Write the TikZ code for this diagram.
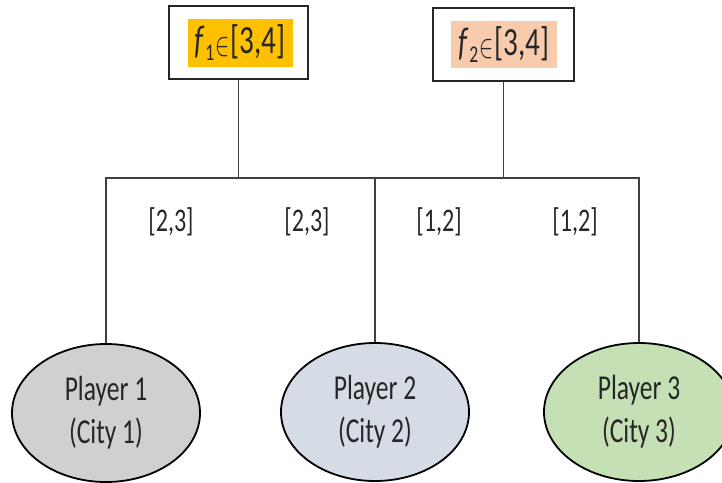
\documentclass[tikz,border=0pt]{standalone}
\usepackage{fontspec}
\setmainfont[FakeStretch=0.73]{Carlito}
\usetikzlibrary{shapes.geometric}
\definecolor{txt}{HTML}{262626}
\definecolor{gold}{HTML}{FFC000}
\definecolor{peach}{HTML}{F8CBAD}
\definecolor{pgray}{HTML}{D0D0D0}
\definecolor{pblue}{HTML}{D6DCE5}
\definecolor{pgreen}{HTML}{C5E0B4}
\definecolor{lin}{HTML}{404040}
\tikzset{
  outerbox/.style={draw=black!85, line width=1.8pt, minimum width=139pt, minimum height=73pt, inner sep=0pt},
  hilite/.style={minimum width=105pt, minimum height=48pt, inner sep=0pt, text=txt, font=\fontsize{40}{42}\selectfont},
  player/.style={ellipse, draw=black, line width=1.8pt, minimum width=188pt, minimum height=138pt, inner sep=0pt, align=center, text=txt, font=\fontsize{35}{43}\selectfont},
  conn/.style={draw=lin, line width=1.4pt},
  lab/.style={text=txt, font=\fontsize{33}{36}\selectfont, inner sep=0pt}
}
\newcommand{\fval}[1]{\textit{f}\raisebox{-0.35ex}{\fontsize{24}{24}\selectfont #1}\kern1pt\raisebox{-0.12ex}{\scalebox{0.85}[1.35]{$\in$}}\kern1pt[3,4]}
\begin{document}
\begin{tikzpicture}[x=1pt,y=-1pt]
\useasboundingbox (0,0) rectangle (722,482);
\node[outerbox] (b1) at (238.5,42.5) {};
\node[hilite, fill=gold] (t1) at (240,42.5) {\fval{1}};
\node[outerbox, minimum width=141pt] (b2) at (503.5,44.5) {};
\node[hilite, fill=peach, minimum width=106pt, minimum height=47pt] (t2) at (504,44.5) {\fval{2}};

\coordinate (barL) at (106,178);
\coordinate (barR) at (640,178);

\node[player, fill=pgray] (p1) at (106,413) {Player 1\\(City 1)};
\node[player, fill=pblue] (p2) at (375,412) {Player 2\\(City 2)};
\node[player, fill=pgreen, minimum width=190pt] (p3) at (639,412) {Player 3\\(City 3)};

\draw[conn] (b1.south) -- (b1.south |- barL);
\draw[conn] (b2.south) -- (b2.south |- barL);
\draw[conn] (p1.north) -- (p1.north |- barL) -- (p3.north |- barR) -- (p3.north);
\draw[conn] (p2.north) -- (p2.north |- barL);

\node[lab] (l1) at (171,222) {[2,3]};
\node[lab] (l2) at (307,222) {[2,3]};
\node[lab] (l3) at (439,222) {[1,2]};
\node[lab] (l4) at (575,222) {[1,2]};
\end{tikzpicture}
\end{document}
